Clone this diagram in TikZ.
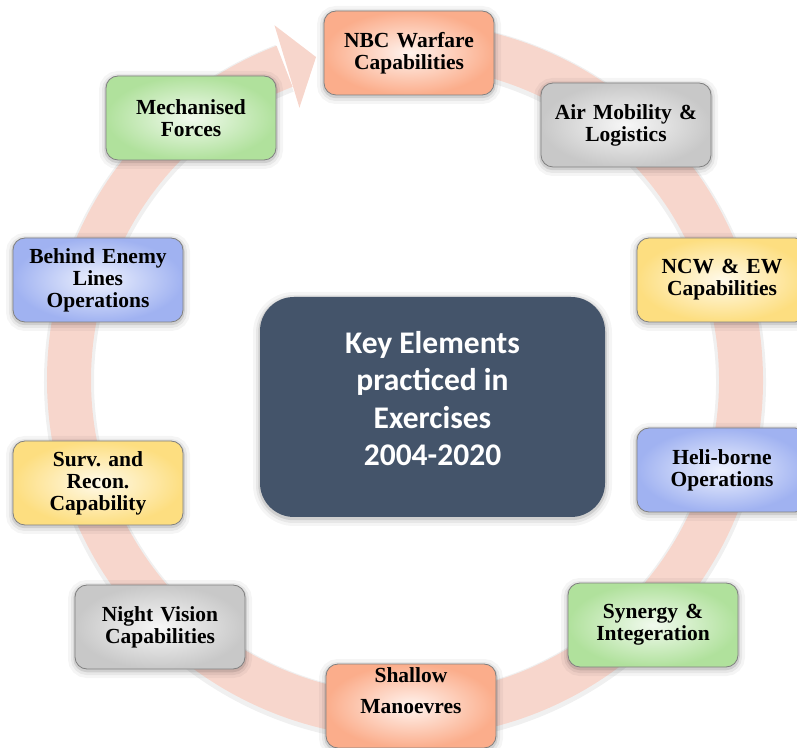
\documentclass[tikz,border=0pt]{standalone}
\usepackage{fontspec}
\setmainfont{Liberation Serif}
\newfontfamily\calfont{Carlito}
\frenchspacing
\usetikzlibrary{calc}
\definecolor{ringcol}{HTML}{F7D6CC}
\definecolor{salmonout}{HTML}{FBAD8B}
\definecolor{salmonin}{HTML}{FFF3EE}
\definecolor{grayout}{HTML}{C8C8C8}
\definecolor{grayin}{HTML}{F7F7F7}
\definecolor{yellowout}{HTML}{FDDE80}
\definecolor{yellowin}{HTML}{FFFAEA}
\definecolor{blueout}{HTML}{A0B2F1}
\definecolor{bluein}{HTML}{EEF2FE}
\definecolor{greenout}{HTML}{B0E19C}
\definecolor{greenin}{HTML}{F1FAEE}
\definecolor{slate}{HTML}{44546A}
\tikzset{
  soft/.style={
    preaction={draw=black,draw opacity=0.04,line width=14pt,transform canvas={yshift=-2pt}},
    preaction={draw=black,draw opacity=0.06,line width=8pt,transform canvas={yshift=-2pt}},
    preaction={draw=black,draw opacity=0.10,line width=3.5pt,transform canvas={yshift=-1.5pt}}},
  box/.style={rectangle, rounded corners=12pt, minimum width=170pt, minimum height=84pt,
    text width=166pt, draw=black!50, line width=0.8pt, align=center, inner sep=2pt,
    font=\fontsize{21.5}{22}\selectfont\bfseries, soft},
  salmon/.style={inner color=salmonin, outer color=salmonout},
  grayb/.style={inner color=grayin, outer color=grayout},
  yellowb/.style={inner color=yellowin, outer color=yellowout},
  blueb/.style={inner color=bluein, outer color=blueout},
  greenb/.style={inner color=greenin, outer color=greenout},
  centre/.style={rectangle, rounded corners=34pt, minimum width=345pt, minimum height=220pt,
    fill=slate, text=white, align=center, soft,
    font=\calfont\fontsize{31.5}{37.5}\selectfont\bfseries},
  ring/.style={draw=ringcol, line width=44pt}
}
\begin{document}
\begin{tikzpicture}[x=1pt,y=1pt]
\useasboundingbox (0,0) rectangle (797,747);
\coordinate (rc) at (405,367);
% ring with faint shadow
\draw[draw=black, draw opacity=0.06, line width=50pt, transform canvas={yshift=-2pt}]
  ($(rc)+(95:336pt)$) arc[start angle=95, end angle=-249, radius=336pt];
\draw[ring] ($(rc)+(95:336pt)$) arc[start angle=95, end angle=-249, radius=336pt];
\coordinate (hb1) at ($(rc)+(111.2:292pt)$);
\coordinate (hb2) at ($(rc)+(110.2:378pt)$);
\coordinate (ht) at ($(rc)+(105.4:335pt)$);
\fill[ringcol] (hb1) -- (hb2) -- (ht) -- cycle;

\node[centre] (c) at (432.5,340) {Key Elements\\practiced in\\Exercises\\2004-2020\\[-20pt]\mbox{}};

\node[box, salmon] (nbc) at (409,694) {NBC Warfare\\Capabilities};
\node[box, grayb] (air) at (626,622) {Air Mobility \&\\Logistics};
\node[box, yellowb] (ncw) at (722,467) {NCW \& EW\\Capabilities};
\node[box, blueb] (heli) at (722,277) {Heli-borne\\Operations};
\node[box, greenb] (syn) at (653,122) {Synergy \&\\Integeration};
\node[box, salmon, font=\fontsize{21.5}{31}\selectfont\bfseries] (sha) at (411,41) {Shallow\\Manoevres\\\mbox{}};
\node[box, grayb] (nv) at (160,120) {Night Vision\\Capabilities};
\node[box, yellowb] (surv) at (98,264) {Surv. and\\Recon.\\Capability};
\node[box, blueb] (bel) at (98,467) {Behind Enemy\\Lines\\Operations};
\node[box, greenb] (mech) at (191,629) {Mechanised\\Forces};
\end{tikzpicture}
\end{document}
